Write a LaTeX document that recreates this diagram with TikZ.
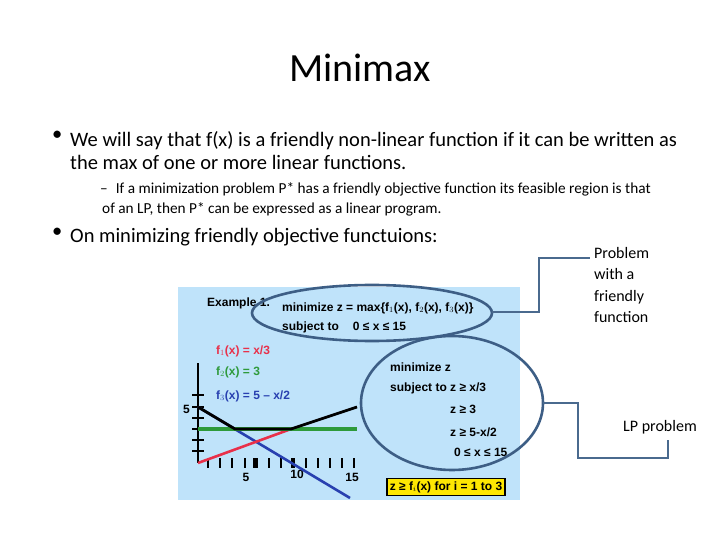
\documentclass[tikz,border=0pt]{standalone}
\usepackage{fontspec}
\setmainfont{Carlito}
\newfontfamily\arial{Liberation Sans}
\begin{document}
\begin{tikzpicture}[x=1pt,y=-1pt,
  body/.style={anchor=north west,inner sep=0,align=left,font=\fontsize{20.5}{23}\selectfont},
  small/.style={anchor=north west,inner sep=0,align=left,font=\fontsize{15.3}{21}\selectfont},
  pl/.style={anchor=west,inner sep=0,font=\arial\bfseries\fontsize{12}{13}\selectfont},
  ell/.style={draw=ellc,line width=2.6pt},
  call/.style={draw=callc,line width=1.5pt}]
\definecolor{bgb}{HTML}{BFE3FA}
\definecolor{ellc}{HTML}{3D5E85}
\definecolor{callc}{HTML}{4A6A8E}
\definecolor{pred}{HTML}{E8304A}
\definecolor{pgreen}{HTML}{2E9A3A}
\definecolor{pblue}{HTML}{2840B0}
\useasboundingbox (0,0) rectangle (720,540);
\node[inner sep=0,font=\fontsize{40}{44}\selectfont] (title) at (360,68) {Minimax};
\node[body] (b1m) at (52,131) {•};
\node[body] (b1) at (70,131) {We will say that f(x) is a friendly non-linear function if it can be written as\\the max of one or more linear functions.};
\node[small] (d1) at (100,182) {–\hspace{8pt}If a minimization problem P* has a friendly objective function its feasible region is that};
\node[small] (d2) at (102,202) {of an LP, then P* can be expressed as a linear program.};
\node[body] (b2m) at (52,228) {•};
\node[body] (b2) at (70,228) {On minimizing friendly objective functuions:};
% panel
\fill[bgb] (178,287) rectangle (520,500);
\node[pl] (ex) at (207,303) {Example 1.};
\node[pl] (mz) at (282,308) {minimize z = max\{f$_1$(x), f$_2$(x), f$_3$(x)\}};
\node[pl] (st) at (282,327) {subject to\hspace{14pt}0 ≤ x ≤ 15};
\node[pl,text=pred] (f1) at (216,351) {f$_1$(x) = x/3};
\node[pl,text=pgreen] (f2) at (216,372) {f$_2$(x) = 3};
\node[pl,text=pblue] (f3) at (216,396) {f$_3$(x) = 5 – x/2};
\node[pl] (l1) at (390,367) {minimize z};
\node[pl] (l2) at (390,388) {subject to z ≥ x/3};
\node[pl] (l3) at (450,409) {z ≥ 3};
\node[pl] (l4) at (450,432) {z ≥ 5-x/2};
\node[pl] (l5) at (454,452) {0 ≤ x ≤ 15};
\node[pl,draw=black,line width=1.8pt,fill=yellow!90!orange,inner sep=3pt] (zb) at (386,487) {z ≥ f$_i$(x) for i = 1 to 3};
% axes
\draw[line width=1.3pt] (198,363) -- (198,463);
\foreach \y in {395,407,418,429,440,451} \draw[line width=1.3pt] (192,\y) -- (204,\y);
\node[pl] (five) at (183,409) {5};
\foreach \i in {0,...,12} \draw[line width=2pt] ({208+\i*12.2},458) -- ({208+\i*12.2},468);
\draw[line width=4pt] (255,458) -- (255,468);
\draw[line width=4pt] (293,458) -- (293,468);
\node[pl,anchor=center] (t5) at (246,477) {5};
\node[pl,anchor=center] (t10) at (297,474) {10};
\node[pl,anchor=center] (t15) at (352,477) {15};
% lines
\draw[pblue,line width=2.6pt] (198,407) -- (350,498);
\draw[pred,line width=2.6pt] (198,463) -- (291,429);
\draw[pgreen,line width=3.4pt] (198,429) -- (357,429);
\draw[line width=2.8pt] (198,407) -- (235,429) -- (291,429) -- (357,407);
% ellipses
\draw[ell] (372,313) ellipse [x radius=120,y radius=28];
\draw[ell] (452,403) ellipse [x radius=91,y radius=67];
\coordinate (e1) at (492,312);
\coordinate (e2) at (543,403);
\node[anchor=north west,inner sep=0,align=left,font=\fontsize{16}{21.5}\selectfont] (p1) at (594,247) {Problem\\with a\\friendly\\function};
\node[anchor=west,inner sep=0,font=\fontsize{16}{18}\selectfont] (p2) at (623,427) {LP problem};
\draw[call] (e1) -- (539,312) -- (539,258) -- (590,258);
\draw[call] (e2) -- (578,403) -- (578,458) -- (668,458) -- (668,440);
\end{tikzpicture}
\end{document}
